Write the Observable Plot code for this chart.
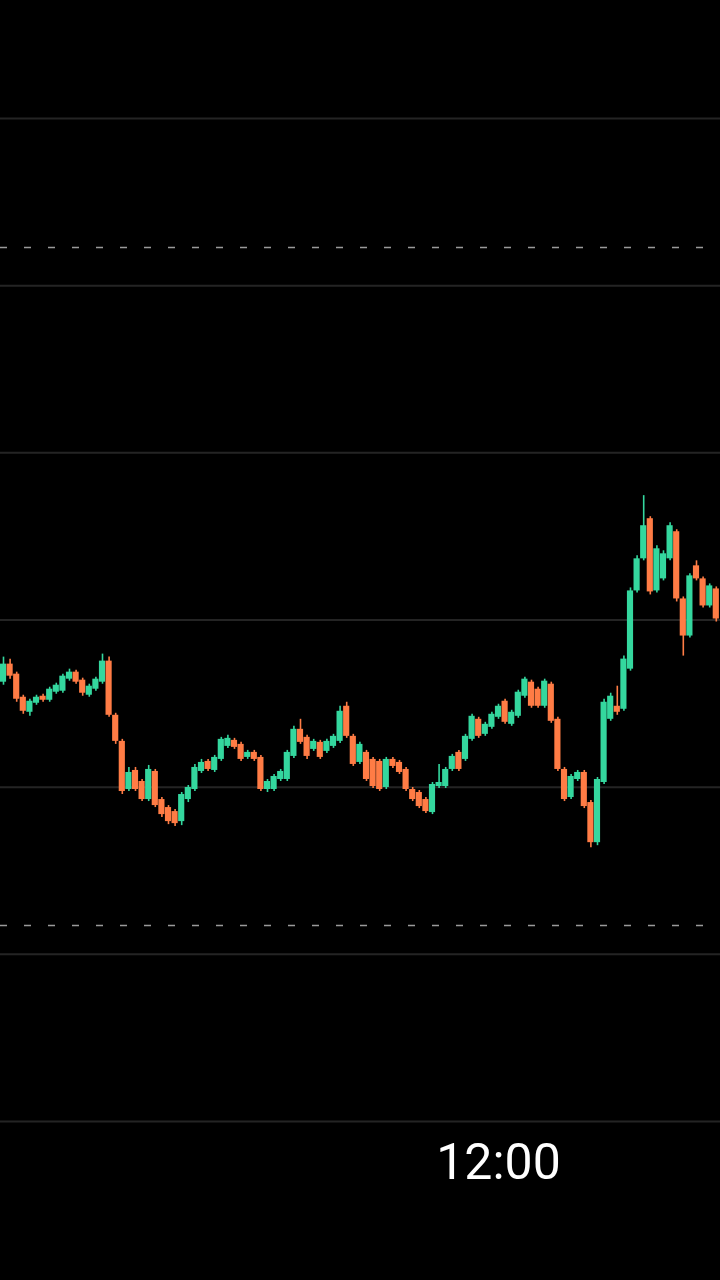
<!DOCTYPE html>
<html><head><meta charset="utf-8">
<script src="https://cdn.jsdelivr.net/npm/d3@7"></script>
<script src="https://cdn.jsdelivr.net/npm/@observablehq/plot@0.6"></script>
<style>html,body{margin:0;padding:0;background:#000;overflow:hidden}</style>
</head><body><div id="chart"></div>
<script>
// one-minute candles starting 10:45
const startTime = new Date(2024, 0, 2, 10, 45);
const open = [26.28,27.36,26.76,25.38,24.48,25.02,25.44,25.20,25.68,25.74,26.46,26.88,26.40,25.50,25.86,26.28,27.54,24.30,22.74,19.86,21.00,20.34,19.26,20.94,19.26,18.78,18.54,17.94,19.26,19.86,20.94,21.54,21.00,21.66,22.44,22.80,22.56,21.78,22.08,21.78,19.86,19.86,20.46,20.46,21.84,23.46,22.98,22.26,22.68,22.14,22.44,22.74,24.84,23.04,21.48,22.08,21.66,21.54,19.98,21.66,21.48,21.06,19.86,19.68,19.26,18.48,20.04,20.04,21.06,22.08,21.66,22.86,24.06,23.16,23.58,24.18,25.14,23.76,24.24,25.44,26.28,25.86,24.84,26.16,24.06,21.06,19.38,20.46,20.88,19.08,16.68,20.28,24.06,24.84,24.66,27.06,31.74,33.66,36.06,31.74,32.46,33.66,35.28,31.26,29.04,33.24,32.46,30.84,31.86];
const close = [27.36,26.64,25.26,24.54,25.14,25.38,25.20,25.86,26.10,26.64,26.88,26.28,25.62,26.04,26.46,27.54,24.30,22.74,19.74,20.88,19.86,19.26,21.06,18.90,18.36,17.94,17.82,19.56,19.98,21.18,21.48,21.06,21.78,22.86,22.92,22.38,21.66,22.08,21.66,19.86,20.34,20.64,20.94,22.08,23.46,22.68,21.84,22.74,21.78,22.74,23.04,24.54,23.04,21.36,22.56,20.46,20.04,19.86,21.66,21.24,20.88,19.86,19.26,18.84,18.54,20.16,20.28,21.06,21.84,21.06,23.04,24.24,23.04,23.76,24.36,24.84,23.88,24.48,25.68,26.46,24.84,24.84,26.34,23.94,21.06,19.26,20.64,20.88,18.84,16.68,20.46,25.08,25.44,24.48,27.66,31.74,33.66,35.64,31.68,34.26,33.96,35.64,31.26,29.04,32.64,32.46,30.84,32.04,30.06];
const high = [27.78,27.66,26.88,25.50,25.26,25.50,25.56,25.98,26.22,26.76,27.06,27.00,26.52,26.16,26.58,27.96,27.78,24.42,22.86,21.18,21.18,20.46,21.30,21.06,19.38,18.90,18.66,19.68,20.10,21.36,21.66,21.66,21.90,22.98,23.10,22.92,22.68,22.20,22.20,21.90,20.46,20.76,21.06,22.20,23.64,24.06,23.10,22.86,22.80,22.86,23.16,24.84,25.08,23.16,22.68,22.20,21.78,21.66,21.78,21.78,21.60,21.18,19.98,19.80,19.38,20.28,21.36,21.18,21.96,22.20,23.16,24.36,24.18,23.88,24.48,24.96,25.26,24.60,25.80,26.58,26.40,25.98,26.46,26.28,24.18,21.18,20.76,21.00,21.00,19.20,20.58,25.26,25.62,26.04,27.84,31.92,33.84,37.44,36.18,34.44,34.14,35.82,35.40,31.38,32.76,33.54,32.58,32.16,31.98];
const low = [26.10,26.46,25.08,24.36,24.24,24.90,25.08,25.08,25.56,25.62,26.34,26.16,25.44,25.38,25.74,26.16,24.18,22.56,19.56,19.74,19.74,19.14,19.14,18.78,18.18,17.76,17.64,17.70,19.08,19.74,20.82,20.94,20.88,21.54,22.32,22.26,21.54,21.66,21.54,19.74,19.68,19.74,20.34,20.34,21.72,22.56,21.66,22.14,21.66,22.02,22.32,22.62,22.92,21.24,21.36,20.34,19.92,19.74,19.86,21.12,20.76,19.74,19.14,18.72,18.42,18.36,19.92,19.92,20.94,20.94,21.54,22.74,22.92,23.04,23.46,24.06,23.76,23.64,24.12,25.32,24.72,24.72,24.72,23.82,20.94,19.14,19.26,20.34,18.72,16.38,16.50,20.16,23.94,24.30,24.54,26.94,31.62,33.54,31.50,31.62,32.34,33.54,31.08,27.84,28.92,32.34,30.72,30.72,29.88];
const gridLevels = [0, 10, 20, 30, 40, 50, 60];
const dashedLevels = [52.28, 11.72];
const tickTimes = [new Date(2024, 0, 2, 12, 0)];

const UP = "#34d79e", DOWN = "#ff7c45";
const candles = open.map((o, i) => ({
  time: new Date(+startTime + i * 60000),
  open: o, close: close[i], high: high[i], low: low[i]
}));
const col = d => d.close >= d.open ? UP : DOWN;

const chart = Plot.plot({
  width: 720, height: 1280,
  marginTop: 0, marginRight: 0, marginLeft: 0, marginBottom: 159,
  style: {background: "#000", color: "#fff", fontFamily: "Roboto, 'Liberation Sans', sans-serif"},
  x: {type: "time", domain: [new Date(2024, 0, 2, 10, 44, 32, 727), new Date(2024, 0, 2, 12, 33, 38, 182)]},
  y: {domain: [0, 67.06], axis: null},
  color: {type: "identity"},
  marks: [
    Plot.ruleY(gridLevels, {stroke: "#242424", strokeWidth: 2}),
    Plot.ruleY(dashedLevels, {stroke: "#9a9a9a", strokeWidth: 1.5, strokeDasharray: "7,17"}),
    Plot.ruleX(candles, {x: "time", y1: "low", y2: "high", stroke: col, strokeWidth: 1.6}),
    Plot.rect(candles, {
      x1: d => new Date(+d.time - 28000), x2: d => new Date(+d.time + 28000),
      y1: "open", y2: "close", fill: col
    }),
    Plot.axisX({ticks: tickTimes, tickFormat: d3.timeFormat("%H:%M"), tickSize: 0, tickPadding: 22, fontSize: 50, fill: "#fff", label: null})
  ]
});
document.getElementById("chart").appendChild(chart);
</script>
</body></html>
